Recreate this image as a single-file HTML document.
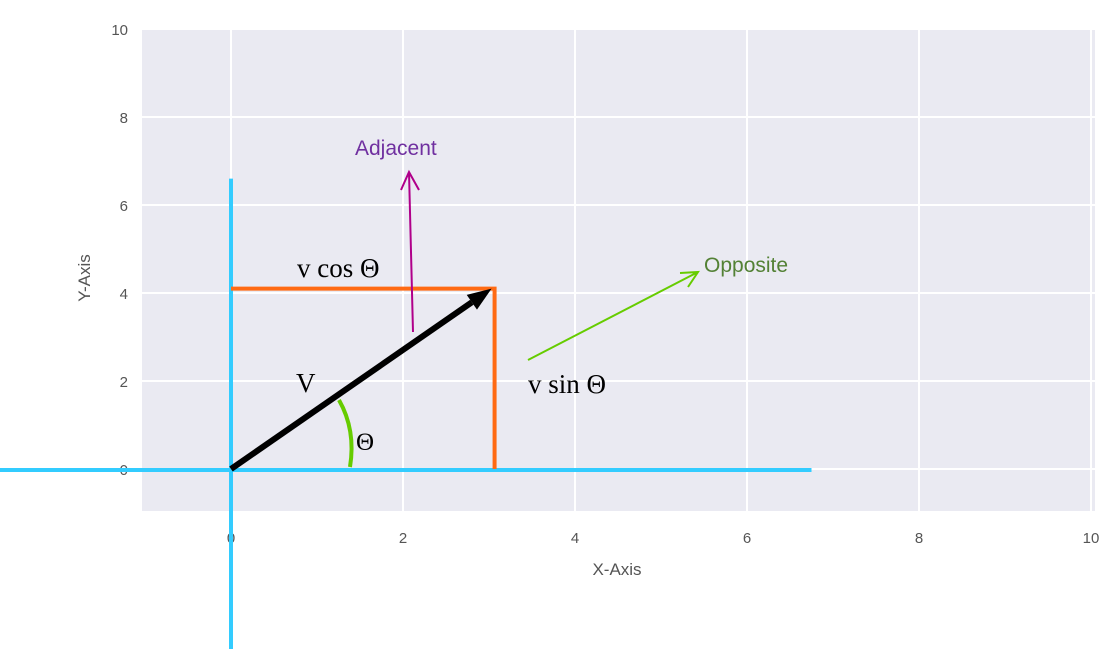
<!DOCTYPE html>
<html><head><meta charset="utf-8"><style>
body{margin:0;background:#fff}
svg{display:block}
text{font-family:"Liberation Sans",sans-serif}
text.serif{font-family:"Liberation Serif",serif}
</style></head><body>
<svg id="chart" width="1118" height="649">
<rect x="142" y="29" width="953" height="482" fill="#eaeaf2"/>
<g id="grid"></g>
<g id="ticks" fill="#555" font-size="15"></g>
<text x="617" y="575" text-anchor="middle" fill="#555" font-size="17">X-Axis</text>
<text transform="translate(90,278) rotate(-90)" text-anchor="middle" fill="#555" font-size="17">Y-Axis</text>
<g id="marks"></g>
<text class="serif" x="297" y="277" font-size="27" fill="#000">v cos Θ</text>
<text class="serif" x="528" y="393" font-size="27" fill="#000">v sin Θ</text>
<text class="serif" x="296" y="392" font-size="27" fill="#000">V</text>
<text class="serif" x="356" y="450" font-size="25" fill="#000">Θ</text>
<text x="355" y="155" font-size="21" fill="#7030a0">Adjacent</text>
<text x="704" y="272" font-size="21" fill="#538135">Opposite</text>
</svg>
<script>
const xTicks=[0,2,4,6,8,10];
const yTicks=[0,2,4,6,8,10];
const vec=[3.03,4.1];
const axisReach=[6.75,6.6,-2.0];
const NS="http://www.w3.org/2000/svg";
const X=v=>231+86*v, Y=v=>469-44*v;
function el(p,tag,a){const e=document.createElementNS(NS,tag);for(const k in a)e.setAttribute(k,a[k]);p.appendChild(e);return e;}
const grid=document.getElementById('grid'),ticks=document.getElementById('ticks'),marks=document.getElementById('marks');
xTicks.forEach(t=>{
 const l=el(grid,'line',{x1:X(t),x2:X(t),y1:29,y2:511,stroke:'#fff','stroke-width':2});
 
 
 const tx=el(ticks,'text',{x:X(t),y:543,'text-anchor':'middle'});tx.textContent=t;
 
 
});
yTicks.forEach(t=>{
 const l=el(grid,'line',{x1:142,x2:1095,y1:Y(t),y2:Y(t),stroke:'#fff','stroke-width':2});
 
 
 const tx=el(ticks,'text',{x:128,y:Y(t)+6,'text-anchor':'end'});tx.textContent=t;
 
 
});
let a=el(marks,'line',{x1:0,x2:X(axisReach[0]),y1:Y(0)+1,y2:Y(0)+1,stroke:'#33ccff','stroke-width':4});


a=el(marks,'line',{x1:X(0),x2:X(0),y1:Y(axisReach[1]),y2:649,stroke:'#33ccff','stroke-width':4});


let o=el(marks,'polyline',{points:`${X(0)},${Y(vec[1])} ${X(vec[0])+3},${Y(vec[1])} ${X(vec[0])+3},${Y(0)}`,fill:'none',stroke:'#ff6a13','stroke-width':4});


const x1=X(0),y1=Y(0),x2=X(vec[0]),y2=Y(vec[1]);
const ang=Math.atan2(y2-y1,x2-x1);
const L=24,W=9;
const bx=x2-L*Math.cos(ang),by=y2-L*Math.sin(ang);
let v=el(marks,'line',{x1:x1,y1:y1,x2:bx,y2:by,stroke:'#000','stroke-width':6});


let h=el(marks,'polygon',{points:`${x2},${y2} ${bx+W*Math.sin(ang)},${by-W*Math.cos(ang)} ${bx-W*Math.sin(ang)},${by+W*Math.cos(ang)}`,fill:'#000'});


let arc=el(marks,'path',{d:'M339,400 Q356,430 350,467',fill:'none',stroke:'#66cc00','stroke-width':4});


let pa=el(marks,'path',{d:'M413,332 L409,172 M401,190 L409,172 L419,190',fill:'none',stroke:'#b0008a','stroke-width':2});


let ga=el(marks,'path',{d:'M528,360 L698,272 M680,273 L698,272 L688,287',fill:'none',stroke:'#66cc00','stroke-width':2});


</script>
</body></html>
